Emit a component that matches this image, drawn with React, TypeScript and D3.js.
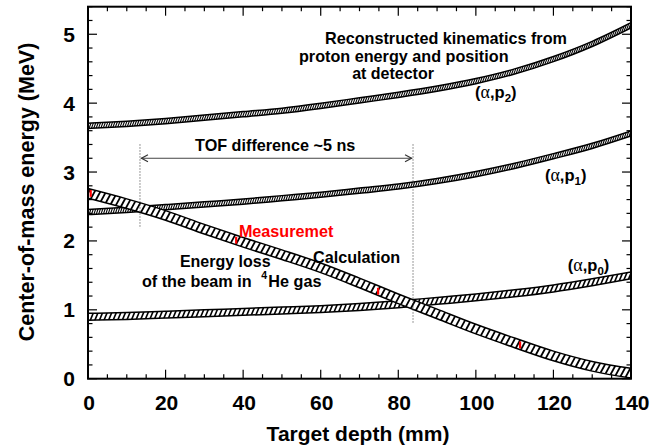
import React from "react";
import * as d3 from "d3";

// ---- data ----
const depth = [0, 10, 20, 30, 40, 50, 60, 70, 80, 90, 100, 110, 120, 130, 140];
const p2Energy = [3.67, 3.7, 3.74, 3.79, 3.84, 3.89, 3.96, 4.04, 4.12, 4.21, 4.32, 4.46, 4.64, 4.86, 5.13];
const p1Energy = [2.42, 2.45, 2.49, 2.53, 2.57, 2.62, 2.67, 2.73, 2.79, 2.87, 2.97, 3.09, 3.23, 3.38, 3.56];
const p0Energy = [0.9, 0.91, 0.93, 0.95, 0.97, 0.99, 1.01, 1.04, 1.08, 1.13, 1.18, 1.24, 1.31, 1.4, 1.5];
const elossEnergy = [2.69, 2.54, 2.37, 2.17, 1.98, 1.8, 1.61, 1.39, 1.16, 0.94, 0.72, 0.52, 0.33, 0.18, 0.08];
const bandWidth = { p2: 0.075, p1: 0.075, p0: 0.1, eloss: 0.14 };

const measDepth = [0.7, 38.2, 74.8, 111.4];
const measEnergy = [2.69, 2.01, 1.27, 0.49];
const measErr = [0.05, 0.05, 0.05, 0.05];

const xTicks = [0, 20, 40, 60, 80, 100, 120, 140];
const yTicks = [0, 1, 2, 3, 4, 5];
const tofStart = 13.4;
const tofEnd = 83.8;
const tofArrowE = 3.2;
const tofTopE = 3.4;
const tofLeftBottomE = 2.18;
const tofRightBottomE = 0.81;

// ---- layout ----
const W = 666;
const H = 446;
const left = 88;
const right = 631;
const top = 6.7;
const bottom = 378.7;

const x = d3.scaleLinear().domain([0, 140]).range([left, right]);
const y = d3.scaleLinear().domain([0, 5.4]).range([bottom, top]);

const FONT = "'Liberation Sans', Arial, Helvetica, sans-serif";
const GREEK = "'Liberation Serif', 'DejaVu Serif', serif";

type BandProps = {
  id: string;
  values: number[];
  width: number;
  spacing: number;
  slant: number;
  hatchW: number;
};

function Band({ id, values, width, spacing, slant, hatchW }: BandProps) {
  const upper = values.map((v) => v + width / 2);
  const lower = values.map((v) => v - width / 2);
  const area = d3
    .area<number>()
    .x((_, i) => x(depth[i]))
    .y0((_, i) => y(lower[i]))
    .y1((_, i) => y(upper[i]))
    .curve(d3.curveMonotoneX);
  const lineU = d3
    .line<number>()
    .x((_, i) => x(depth[i]))
    .y((_, i) => y(upper[i]))
    .curve(d3.curveMonotoneX);
  const lineL = d3
    .line<number>()
    .x((_, i) => x(depth[i]))
    .y((_, i) => y(lower[i]))
    .curve(d3.curveMonotoneX);
  const center = d3
    .scaleLinear()
    .domain(depth.map((d) => x(d)))
    .range(values.map((v) => y(v)))
    .clamp(true);
  const hatches: number[] = d3.range(x(0) - 10, x(140) + 10, spacing);
  const d = area(values) || "";
  return (
    <g>
      <clipPath id={id}>
        <path d={d} />
      </clipPath>
      <path d={d} fill="white" />
      <g clipPath={`url(#${id})`}>
        {hatches.map((px, i) => {
          const yc = center(px);
          return (
            <line
              key={i}
              x1={px - slant}
              y1={yc + 12}
              x2={px + slant}
              y2={yc - 12}
              stroke="black"
              strokeWidth={hatchW}
            />
          );
        })}
      </g>
      <path d={lineU(values) || ""} fill="none" stroke="black" strokeWidth={1.5} />
      <path d={lineL(values) || ""} fill="none" stroke="black" strokeWidth={1.5} />
    </g>
  );
}

function Label({ mm, mev, sub }: { mm: number; mev: number; sub: string }) {
  return (
    <text x={x(mm)} y={y(mev)} fontFamily={FONT} fontWeight="bold" fontSize={16.5}>
      (<tspan fontFamily={GREEK} fontWeight="normal" fontSize={18}>α</tspan>,p
      <tspan fontSize={11.5} dy={4}>{sub}</tspan>
      <tspan dy={-4}>)</tspan>
    </text>
  );
}

export default function App() {
  const xMinor = d3.range(0, 140.01, 5);
  const yMinor = d3.range(0, 5.41, 0.2);
  return (
    <svg
      width={W}
      height={H}
      style={{ position: "absolute", left: 0, top: 0, background: "white" }}
      fontFamily={FONT}
    >
      <rect width={W} height={H} fill="white" />
      <clipPath id="plot">
        <rect x={left} y={top} width={right - left} height={bottom - top} />
      </clipPath>
      <g clipPath="url(#plot)">
        <Band id="b2" values={p2Energy} width={bandWidth.p2} spacing={2.4} slant={4.5} hatchW={1.1} />
        <Band id="b1" values={p1Energy} width={bandWidth.p1} spacing={2.4} slant={4} hatchW={1.1} />
        <Band id="b0" values={p0Energy} width={bandWidth.p0} spacing={4.6} slant={5} hatchW={1.6} />
        <Band id="be" values={elossEnergy} width={bandWidth.eloss} spacing={5} slant={6.5} hatchW={1.8} />
      </g>

      {/* TOF dotted lines and arrow */}
      <line x1={x(tofStart)} x2={x(tofStart)} y1={y(tofTopE)} y2={y(tofLeftBottomE)} stroke="#333" strokeWidth={1} strokeDasharray="1,2" />
      <line x1={x(tofEnd)} x2={x(tofEnd)} y1={y(tofTopE)} y2={y(tofRightBottomE)} stroke="#333" strokeWidth={1} strokeDasharray="1,2" />
      <line x1={x(tofStart) + 1} x2={x(tofEnd) - 1} y1={y(tofArrowE)} y2={y(tofArrowE)} stroke="#444" strokeWidth={1} />
      <path
        d={`M${x(tofStart) + 8},${y(tofArrowE) - 3.5}L${x(tofStart) + 1.5},${y(tofArrowE)}L${x(tofStart) + 8},${y(tofArrowE) + 3.5}`}
        fill="none"
        stroke="#333"
        strokeWidth={1.2}
      />
      <path
        d={`M${x(tofEnd) - 8},${y(tofArrowE) - 3.5}L${x(tofEnd) - 1.5},${y(tofArrowE)}L${x(tofEnd) - 8},${y(tofArrowE) + 3.5}`}
        fill="none"
        stroke="#333"
        strokeWidth={1.2}
      />

      {/* measurements */}
      {measDepth.map((m, i) => (
        <line
          key={i}
          x1={x(m)}
          x2={x(m)}
          y1={y(measEnergy[i] - measErr[i])}
          y2={y(measEnergy[i] + measErr[i])}
          stroke="red"
          strokeWidth={2.2}
        />
      ))}

      {/* annotations */}
      <g fontWeight="bold" fontSize={16} fill="black">
        <text x={x(61.1)} y={y(4.858)} fontSize={16.2}>Reconstructed kinematics from</text>
        <text x={x(54.4)} y={y(4.6)} fontSize={16.2}>proton energy and position</text>
        <text x={x(68.1)} y={y(4.355)}>at detector</text>
        <text x={x(27.6)} y={y(3.306)} fontSize={16.2}>TOF difference ~5 ns</text>
        <text x={x(38.9)} y={y(2.057)} fill="red" fontSize={16.2}>Measuremet</text>
        <text x={x(58.0)} y={y(1.68)} fontSize={16.2}>Calculation</text>
        <text x={x(23.7)} y={y(1.615)}>Energy loss</text>
        <text x={x(13.9)} y={y(1.331)} fontSize={16.2}>of the beam in</text>
        <text x={x(44.7)} y={y(1.445)} fontSize={10.5}>4</text>
        <text x={x(46.5)} y={y(1.331)} fontSize={16.2}>He gas</text>
      </g>
      <Label mm={99.8} mev={4.075} sub="2" />
      <Label mm={117.8} mev={2.87} sub="1" />
      <Label mm={123.7} mev={1.563} sub="0" />

      {/* frame and ticks */}
      <g stroke="black" strokeWidth={1.2}>
        {xMinor.map((v, i) => {
          const len = v % 20 === 0 ? 9 : 4.5;
          return (
            <g key={"xt" + i}>
              <line x1={x(v)} x2={x(v)} y1={bottom} y2={bottom - len} />
              <line x1={x(v)} x2={x(v)} y1={top} y2={top + len} />
            </g>
          );
        })}
        {yMinor.map((v, i) => {
          const len = Math.abs(v - Math.round(v)) < 1e-6 ? 9 : 4.5;
          return (
            <g key={"yt" + i}>
              <line x1={left} x2={left + len} y1={y(v)} y2={y(v)} />
              <line x1={right} x2={right - len} y1={y(v)} y2={y(v)} />
            </g>
          );
        })}
      </g>
      <rect x={left} y={top} width={right - left} height={bottom - top} fill="none" stroke="black" strokeWidth={2} />

      <g fontWeight="bold" fontSize={21}>
        {xTicks.map((v) => (
          <text key={"xl" + v} x={x(v) + 1} y={410} textAnchor="middle">
            {v}
          </text>
        ))}
        {yTicks.map((v) => (
          <text key={"yl" + v} x={75} y={y(v) + 7.5} textAnchor="end">
            {v}
          </text>
        ))}
      </g>
      <text x={358} y={441} textAnchor="middle" fontWeight="bold" fontSize={21}>
        Target depth (mm)
      </text>
      <text
        transform={`translate(34,192) rotate(-90)`}
        textAnchor="middle"
        fontWeight="bold"
        fontSize={21.5}
      >
        Center-of-mass energy (MeV)
      </text>
    </svg>
  );
}
